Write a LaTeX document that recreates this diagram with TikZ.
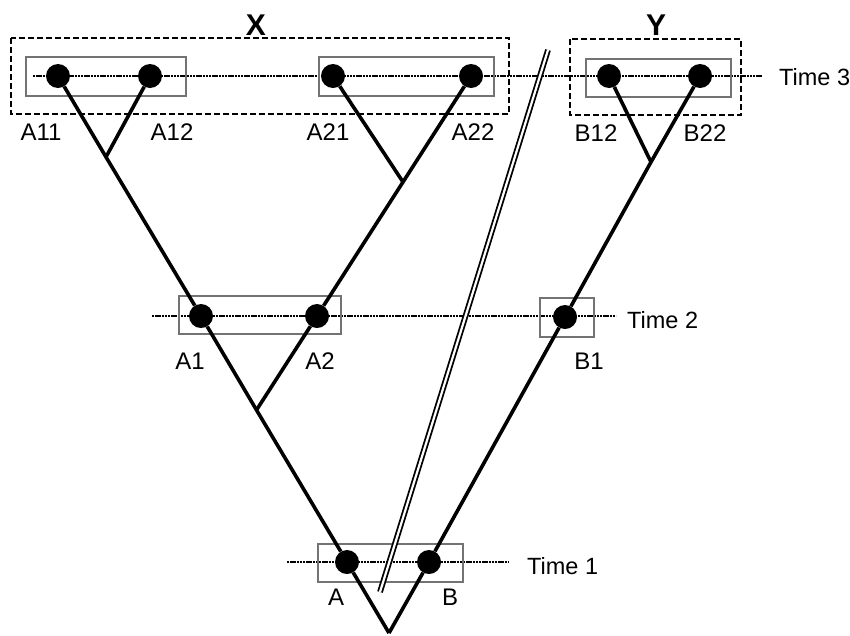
\documentclass[tikz,border=0pt]{standalone}
\usepackage{fontspec}
\setmainfont{Liberation Sans}
\begin{document}
\begin{tikzpicture}[x=1pt,y=-1pt,
  dot/.style={circle,fill=black,draw=none,minimum size=24pt,inner sep=0pt},
  lbl/.style={inner sep=0pt,font=\fontsize{24}{27}\selectfont},
  tlbl/.style={inner sep=0pt,anchor=west,font=\fontsize{23.5}{27}\selectfont},
  grp/.style={inner sep=0pt,font=\fontsize{30}{34}\selectfont\bfseries},
  timeline/.style={line width=2.4pt,black,dash pattern=on 2.4pt off 0.8pt},
  gbox/.style={draw=black!55,line width=1.1pt},
  dbox/.style={draw=black,line width=1.7pt,dash pattern=on 6pt off 3pt},
  branch/.style={line width=3.6pt,black},
  wall/.style={double,double distance=2.2pt,line width=1.8pt}]
\useasboundingbox (0,0) rectangle (850,635);
% time lines
\coordinate (t3a) at (33,76);   \coordinate (t3b) at (762,76);
\coordinate (t2a) at (152,316); \coordinate (t2b) at (616,316);
\coordinate (t1a) at (287,562); \coordinate (t1b) at (508,562);
\draw[timeline] (t3a) -- (t3b);
\draw[timeline] (t2a) -- (t2b);
\draw[timeline] (t1a) -- (t1b);
% grey boxes
\draw[gbox] (26,57) rectangle (186,96);
\draw[gbox] (319,57) rectangle (494,96);
\draw[gbox] (586,59) rectangle (731,97);
\draw[gbox] (179,296) rectangle (341,334);
\draw[gbox] (540,298) rectangle (594,337);
\draw[gbox] (318,544) rectangle (463,582);
% dashed group boxes
\draw[dbox] (11,38) rectangle (509,114);
\draw[dbox] (570,39) rectangle (741,115);
\node[grp] (X) at (256,25) {X};
\node[grp] (Y) at (656,25) {Y};
% nodes
\node[dot] (A11) at (58,76) {};
\node[dot] (A12) at (150,76) {};
\node[dot] (A21) at (333,76) {};
\node[dot] (A22) at (471,76) {};
\node[dot] (B12) at (609,76) {};
\node[dot] (B22) at (700,76) {};
\node[dot] (A1) at (201,316) {};
\node[dot] (A2) at (317,316) {};
\node[dot] (B1) at (565,317) {};
\node[dot] (A) at (347,562) {};
\node[dot] (B) at (429,562) {};
\coordinate (root) at (389,633);
\coordinate (j1) at (256.5,410);
\coordinate (j11) at (106,157);
\coordinate (j2) at (403,182);
\coordinate (jb) at (651,162);
% branches
\draw[branch] (root) -- (A) -- (j1) -- (A1) -- (j11) -- (A11);
\draw[branch] (j11) -- (A12);
\draw[branch] (j1) -- (A2) -- (j2) -- (A22);
\draw[branch] (j2) -- (A21);
\draw[branch] (root) -- (B) -- (B1) -- (jb) -- (B22);
\draw[branch] (jb) -- (B12);
% double wall
\coordinate (w1) at (380,592);
\coordinate (w2) at (548,50);
\draw[wall] (w1) -- (w2);
% labels
\node[lbl] (lA11) at (41,132) {A11};
\node[lbl] (lA12) at (172,132) {A12};
\node[lbl] (lA21) at (328,132) {A21};
\node[lbl] (lA22) at (473,132) {A22};
\node[lbl] (lB12) at (596,133) {B12};
\node[lbl] (lB22) at (705,133) {B22};
\node[lbl] (lA1) at (190,361) {A1};
\node[lbl] (lA2) at (320,361) {A2};
\node[lbl] (lB1) at (589,361) {B1};
\node[lbl] (lA) at (336,597) {A};
\node[lbl] (lB) at (450,597) {B};
\node[tlbl] (T3) at (779,77) {Time 3};
\node[tlbl] (T2) at (627,320) {Time 2};
\node[tlbl] (T1) at (527,566) {Time 1};
\end{tikzpicture}
\end{document}
